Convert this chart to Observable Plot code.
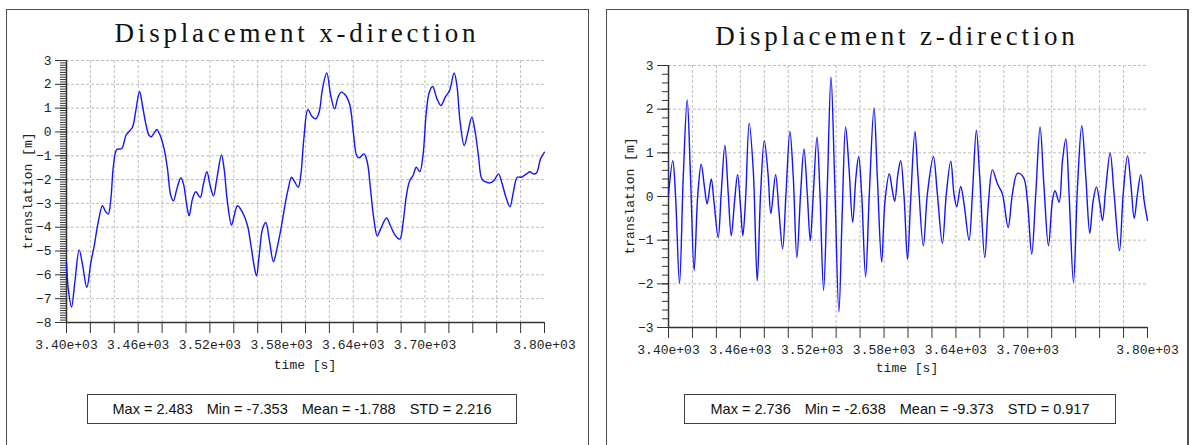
<!DOCTYPE html>
<html><head><meta charset="utf-8">
<script src="https://cdn.jsdelivr.net/npm/d3@7"></script>
<script src="https://cdn.jsdelivr.net/npm/@observablehq/plot@0.6"></script>
<style>
html,body{margin:0;padding:0;background:#fff;}
body{width:1192px;height:445px;overflow:hidden;position:relative;}
.panel{position:absolute;top:9px;height:480px;border:1px solid #505050;box-sizing:border-box;background:#fff;}
.title{position:absolute;text-align:center;font-family:"Liberation Serif";font-size:27px;line-height:27px;letter-spacing:3.8px;color:#111;white-space:nowrap;}
.chart{position:absolute;}
.lab{position:absolute;font-family:"Liberation Mono";font-size:13px;line-height:13px;color:#222;white-space:nowrap;}
.stats{position:absolute;border:1px solid #404040;box-sizing:border-box;height:30px;line-height:28px;text-align:center;font-family:"Liberation Sans";font-size:14.5px;color:#111;background:#fff;white-space:nowrap;}
.stats span{margin:0 7px;}
</style></head>
<body>
<div class="panel" style="left:6px;width:583px;"></div>
<div class="panel" style="left:606px;width:583px;border-right-width:2px;"></div>
<div id="root"></div>
<script>
// ---------- data ----------
const titles = ["Displacement x-direction", "Displacement z-direction"];
const xLabel = "time [s]";
const yLabel = "translation [m]";
const xTickLabels = [3400, 3460, 3520, 3580, 3640, 3700, 3800];

const timeX = [3400,3401.5,3404.2,3407,3410.6,3413.5,3417,3420.4,3423.2,3426.5,3430.1,3432.2,3434.9,3437.1,3439.3,3442.1,3446.3,3449.7,3452.4,3455.2,3458,3461.1,3463.6,3466.4,3469.2,3471.1,3473.4,3475.6,3478.4,3481.7,3484.5,3487.3,3489.5,3492.3,3495.7,3497.9,3500.7,3502.6,3505.4,3508.2,3511.9,3514.6,3517.5,3520.2,3523,3525.8,3529.7,3531.9,3534.7,3538.1,3540.3,3543.1,3547.3,3551.5,3554.8,3557,3559,3561.2,3564,3566.8,3569.6,3573.2,3576,3579.4,3582.7,3585.5,3588.3,3591.1,3593.9,3596.1,3598.6,3602,3605.5,3608.6,3611.4,3614.2,3617.8,3621.1,3624.4,3627.2,3630,3633.6,3637.2,3640,3642.8,3644.7,3648.9,3651.7,3654.4,3657.2,3660,3662.8,3667.8,3671.1,3675.3,3678.9,3681.7,3684.4,3687.2,3690,3692.8,3695.6,3698.3,3701.1,3703.6,3706.4,3710,3713.3,3716.9,3720.6,3724.4,3726.7,3729.4,3732.8,3735.6,3739.2,3742,3744.7,3747.5,3750.3,3754.4,3757.8,3761.4,3764.2,3767.8,3771.1,3773.9,3777.2,3780.8,3785,3787.8,3790.6,3793.3,3796.7,3800];
const dispX = [-5.48,-6.6,-7.35,-6.3,-4.95,-5.6,-6.53,-5.48,-4.78,-3.8,-3.1,-3.3,-3.45,-2.82,-1.41,-0.74,-0.69,-0.15,0.02,0.2,0.9,1.7,1.1,0.34,-0.15,-0.2,-0.04,0.1,-0.15,-0.71,-1.55,-2.68,-2.89,-2.4,-1.92,-2.18,-3.1,-3.52,-2.82,-2.51,-2.75,-2.18,-1.67,-2.25,-2.68,-1.97,-0.97,-1.55,-2.96,-3.91,-3.52,-3.1,-3.38,-3.94,-4.92,-5.62,-6.04,-5.2,-4.08,-3.8,-4.5,-5.45,-4.92,-4.08,-3.1,-2.4,-1.9,-2.11,-2.32,-1.8,-0.29,0.93,0.65,0.55,0.83,1.81,2.48,1.53,0.97,1.46,1.67,1.53,1.11,-0.01,-0.99,-1.09,-0.92,-1.27,-2.4,-3.66,-4.36,-4.08,-3.61,-3.94,-4.36,-4.5,-3.8,-2.68,-2.05,-1.83,-1.48,-1.67,-0.99,0.83,1.67,1.91,1.39,1.11,1.46,1.74,2.48,1.95,0.41,-0.57,-0.08,0.62,-0.01,-0.99,-1.97,-2.09,-2.14,-2.04,-1.76,-2.11,-2.75,-3.14,-2.54,-1.9,-1.9,-1.76,-1.67,-1.76,-1.72,-1.13,-0.85];

const timeZ = [3400,3403.6,3405.8,3409.2,3412.3,3415.6,3418.4,3421.4,3424.5,3427.3,3430.1,3432.3,3435.7,3437.9,3441.5,3444,3447.1,3449.9,3452.4,3455.2,3457.7,3460.2,3462.1,3464.3,3467.4,3470.8,3474.1,3476.9,3480,3483.1,3485.5,3489.4,3492.2,3495.3,3498.1,3501.4,3504.2,3507.2,3510.3,3513.1,3515.9,3518.4,3520.9,3524,3526.5,3529.5,3532.6,3535.7,3538.7,3542.3,3545.1,3547.9,3550.7,3553.8,3556.5,3558.8,3561.3,3564.6,3567.7,3571.6,3574.4,3578,3580.8,3584.4,3586.9,3588.9,3591.6,3593.9,3596.7,3599.6,3602.2,3605.8,3608.4,3612.8,3616.2,3621.2,3624.5,3628.7,3632,3635.7,3638.4,3640.7,3644,3646.8,3651,3653.8,3657.1,3659.9,3664.1,3667.1,3670.5,3674.7,3678.8,3683.6,3687.2,3691.4,3696.4,3699.7,3703.3,3706.7,3710.3,3713.6,3717.3,3720.6,3722.8,3726.2,3729,3731.8,3734.5,3738.2,3741.5,3745.1,3748.5,3751.8,3754.6,3757.4,3760.2,3762.4,3765.2,3768.8,3772.1,3776.6,3779.7,3783.3,3786.1,3788.9,3791.6,3794.4,3797.2,3800];
const dispZ = [0.05,0.82,0.06,-1.99,0.44,2.21,0.44,-1.69,0.06,0.74,0.2,-0.17,0.4,-0.1,-0.94,0.06,1.17,0.06,-0.9,-0.1,0.5,-0.25,-0.9,-0.1,1.68,0.59,-1.93,0.06,1.28,0.52,-0.39,0.5,-0.33,-1.2,0.06,1.49,0.44,-1.4,0.06,1.09,0.06,-1.01,0.06,1.36,0.06,-2.15,0.2,2.74,0.44,-2.64,-0.33,1.59,0.67,-0.59,0.44,0.91,0.06,-1.84,0.06,2.03,0.44,-1.5,-0.1,0.52,0.14,-0.11,0.52,0.82,0.0,-1.44,-0.1,1.49,0.44,-1.13,0.06,0.91,0.06,-1.07,0.06,0.81,0.06,-0.23,0.23,-0.17,-1.0,0.06,1.51,0.44,-1.4,-0.17,0.61,0.29,0.06,-0.71,0.06,0.53,0.44,-0.1,-1.32,0.06,1.59,0.2,-1.13,-0.1,0.13,-0.13,0.82,1.32,0.06,-1.97,0.2,1.62,0.44,-0.84,-0.1,0.22,-0.17,-0.55,0.2,1.0,0.06,-1.24,0.06,0.93,0.29,-0.5,0.06,0.5,-0.1,-0.55];

const statNames = ["Max", "Min", "Mean", "STD"];
const statsX = ["2.483", "-7.353", "-1.788", "2.216"];
const statsZ = ["2.736", "-2.638", "-9.373", "0.917"];

// ---------- drawing ----------
const root = document.getElementById("root");
function el(cls, style, text) {
  const d = document.createElement("div");
  d.className = cls; d.style.cssText = style;
  if (text != null) d.textContent = text;
  root.appendChild(d); return d;
}
const fmtTime = d => (d / 1000).toFixed(2) + "e+03";
const fmtInt = d => (d < 0 ? "\u2212" + Math.abs(d) : String(Math.abs(d)));

function makeChart(cfg) {
  const data = cfg.t.map((t, i) => ({t, v: cfg.v[i]}));
  const [y0, y1] = cfg.yDomain;
  const xTicks = d3.range(3400, 3800.1, 20);
  const xGrid = d3.range(3420, 3790, 20);
  const yTicks = d3.range(y0, y1 + 0.01, 1);
  const yGrid = d3.range(y0 + 1, y1 + 0.01, 1);
  const nMinor = Math.round((y1 - y0) / cfg.minorStep);
  const yMinor = d3.range(0, nMinor + 1).map(i => +(y0 + i * cfg.minorStep).toFixed(3));
  const labelSet = new Set(xTickLabels);
  const grid = {stroke: "#bdbdbd", strokeOpacity: 1, strokeDasharray: "3,2"};
  const svg = Plot.plot({
    width: cfg.width, height: cfg.height,
    marginLeft: cfg.ml, marginRight: cfg.mr, marginTop: cfg.mt, marginBottom: cfg.mb,
    x: {domain: [3400, 3800]},
    y: {domain: cfg.yDomain},
    style: {fontFamily: "Liberation Mono", fontSize: "13px", color: "#222", background: "transparent", overflow: "visible"},
    marks: [
      Plot.gridX(xGrid, grid),
      Plot.gridY(yGrid, grid),
      Plot.axisY({ticks: yMinor, tickSize: 6, tickFormat: () => "", label: null, stroke: "#333"}),
      Plot.axisY({ticks: yTicks, tickSize: 11, tickPadding: 4, tickFormat: fmtInt, label: null, stroke: "#333"}),
      Plot.axisX({ticks: xTicks, tickSize: 11, tickPadding: 6, tickFormat: d => labelSet.has(d) ? fmtTime(d) : "", label: null, stroke: "#333"}),
      Plot.ruleX([3400], {stroke: "#333", strokeWidth: 1.5}),
      Plot.ruleY([y0], {stroke: "#333", strokeWidth: 1.5}),
      Plot.line(data, {x: "t", y: "v", stroke: "#1414ff", strokeWidth: 1.4, curve: "catmull-rom"})
    ]
  });
  const wrap = el("chart", `left:${cfg.left}px;top:${cfg.top}px;`);
  wrap.appendChild(svg);
}

function panel(p) {
  el("title", `left:${p.panelLeft}px;width:${p.panelWidth}px;top:${p.titleTop}px;`, p.title);
  makeChart(p.chart);
  el("lab", `left:${p.xlab[0]}px;top:${p.xlab[1]}px;transform:translate(-50%,-50%);`, xLabel);
  el("lab", `left:${p.ylab[0]}px;top:${p.ylab[1]}px;transform:translate(-50%,-50%) rotate(-90deg);`, yLabel);
  const s = el("stats", `left:${p.stats[0]}px;top:${p.stats[1]}px;width:${p.stats[2]}px;`);
  statNames.forEach((n, i) => {
    const sp = document.createElement("span");
    sp.textContent = `${n} = ${p.values[i]}`;
    s.appendChild(sp);
  });
}

panel({
  panelLeft: 6, panelWidth: 582, titleTop: 20, title: titles[0],
  chart: {t: timeX, v: dispX, yDomain: [-8, 3], minorStep: 0.1, left: 6, top: 50, width: 582, height: 310, ml: 60, mr: 44, mt: 10, mb: 38},
  xlab: [305, 365], ylab: [28, 191], stats: [87, 394, 430], values: statsX
});
panel({
  panelLeft: 606, panelWidth: 582, titleTop: 23, title: titles[1],
  chart: {t: timeZ, v: dispZ, yDomain: [-3, 3], minorStep: 0.2, left: 606, top: 55, width: 582, height: 310, ml: 62, mr: 41, mt: 10, mb: 38},
  xlab: [907, 368], ylab: [630, 196], stats: [684, 394, 432], values: statsZ
});
</script>
</body></html>
